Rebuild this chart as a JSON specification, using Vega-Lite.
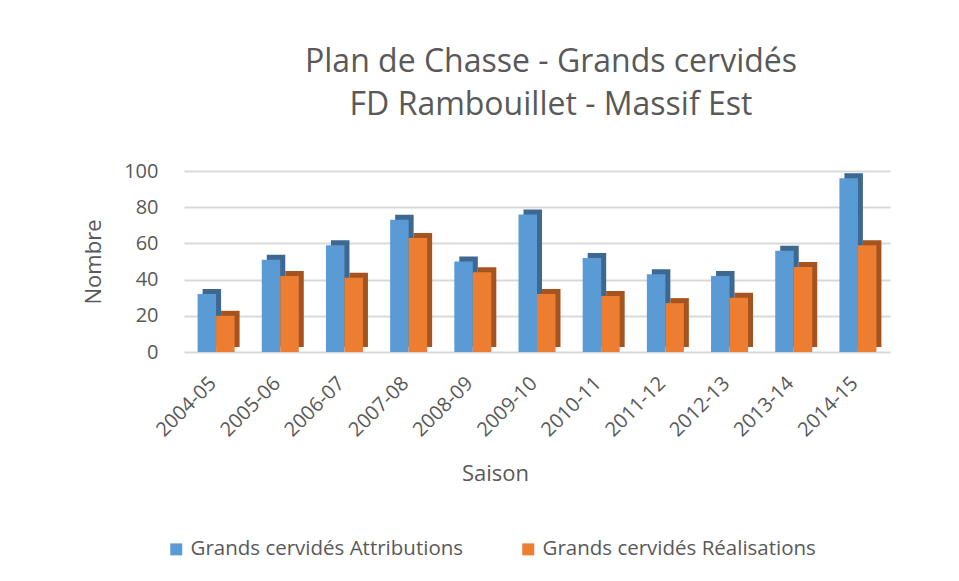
{
  "$schema": "https://vega.github.io/schema/vega-lite/v6.json",
  "width": 706,
  "height": 181,
  "autosize": "none",
  "padding": {"left": 184, "top": 171, "right": 69, "bottom": 229},
  "background": "white",
  "config": {
    "view": {"stroke": null},
    "font": "Open Sans",
    "axis": {"labelColor": "#595959", "titleColor": "#595959", "labelFont": "Open Sans", "titleFont": "Open Sans", "titleFontWeight": "normal"}
  },
  "title": {
    "text": ["Plan de Chasse - Grands cervidés", "FD Rambouillet - Massif Est"],
    "fontSize": 32,
    "fontWeight": "normal",
    "font": "Open Sans",
    "color": "#595959",
    "lineHeight": 43,
    "anchor": "middle",
    "dx": 14,
    "offset": 39
  },
  "datasets": {
    "plan": [
      {"Saison": "2004-05", "Serie": "Grands cervidés Attributions", "Nombre": 32},
      {"Saison": "2004-05", "Serie": "Grands cervidés Réalisations", "Nombre": 20},
      {"Saison": "2005-06", "Serie": "Grands cervidés Attributions", "Nombre": 51},
      {"Saison": "2005-06", "Serie": "Grands cervidés Réalisations", "Nombre": 42},
      {"Saison": "2006-07", "Serie": "Grands cervidés Attributions", "Nombre": 59},
      {"Saison": "2006-07", "Serie": "Grands cervidés Réalisations", "Nombre": 41},
      {"Saison": "2007-08", "Serie": "Grands cervidés Attributions", "Nombre": 73},
      {"Saison": "2007-08", "Serie": "Grands cervidés Réalisations", "Nombre": 63},
      {"Saison": "2008-09", "Serie": "Grands cervidés Attributions", "Nombre": 50},
      {"Saison": "2008-09", "Serie": "Grands cervidés Réalisations", "Nombre": 44},
      {"Saison": "2009-10", "Serie": "Grands cervidés Attributions", "Nombre": 76},
      {"Saison": "2009-10", "Serie": "Grands cervidés Réalisations", "Nombre": 32},
      {"Saison": "2010-11", "Serie": "Grands cervidés Attributions", "Nombre": 52},
      {"Saison": "2010-11", "Serie": "Grands cervidés Réalisations", "Nombre": 31},
      {"Saison": "2011-12", "Serie": "Grands cervidés Attributions", "Nombre": 43},
      {"Saison": "2011-12", "Serie": "Grands cervidés Réalisations", "Nombre": 27},
      {"Saison": "2012-13", "Serie": "Grands cervidés Attributions", "Nombre": 42},
      {"Saison": "2012-13", "Serie": "Grands cervidés Réalisations", "Nombre": 30},
      {"Saison": "2013-14", "Serie": "Grands cervidés Attributions", "Nombre": 56},
      {"Saison": "2013-14", "Serie": "Grands cervidés Réalisations", "Nombre": 47},
      {"Saison": "2014-15", "Serie": "Grands cervidés Attributions", "Nombre": 96},
      {"Saison": "2014-15", "Serie": "Grands cervidés Réalisations", "Nombre": 59}
    ]
  },
  "data": {"name": "plan"},
  "encoding": {
    "x": {
      "field": "Saison",
      "type": "nominal",
      "title": "Saison",
      "scale": {"paddingInner": 0.42, "paddingOuter": 0.21},
      "axis": {
        "labelAngle": -45,
        "labelAlign": "right",
        "labelBaseline": "middle",
        "labelFontSize": 20,
        "labelPadding": 28,
        "labelOffset": -3,
        "ticks": false,
        "domain": false,
        "titleFontSize": 22,
        "titleX": 311,
        "titleY": 121,
        "titleBaseline": "middle",
        "titleAnchor": "middle"
      }
    },
    "y": {
      "field": "Nombre",
      "type": "quantitative",
      "title": "Nombre",
      "scale": {"domain": [0, 100]},
      "axis": {
        "values": [0, 20, 40, 60, 80, 100],
        "labelFontSize": 20,
        "labelPadding": 26,
        "ticks": false,
        "domain": false,
        "gridColor": "#d9d9d9",
        "gridWidth": 2,
        "titleFontSize": 22,
        "titlePadding": 18
      }
    }
  },
  "layer": [
    {
      "transform": [{"filter": "datum.Serie === 'Grands cervidés Attributions'"}],
      "mark": {"type": "bar", "width": 18.5, "xOffset": -4.25, "yOffset": -5, "color": "#3d6891"}
    },
    {
      "transform": [{"filter": "datum.Serie === 'Grands cervidés Attributions'"}],
      "mark": {"type": "bar", "width": 18.5, "xOffset": -9.25},
      "encoding": {
        "color": {
          "field": "Serie",
          "type": "nominal",
          "title": null,
          "scale": {"domain": ["Grands cervidés Attributions", "Grands cervidés Réalisations"], "range": ["#5b9bd5", "#ed7d31"]}
        }
      }
    },
    {
      "transform": [{"filter": "datum.Serie === 'Grands cervidés Réalisations'"}],
      "mark": {"type": "bar", "width": 18.5, "xOffset": 14.25, "yOffset": -5, "color": "#a5541f"}
    },
    {
      "transform": [{"filter": "datum.Serie === 'Grands cervidés Réalisations'"}],
      "mark": {"type": "bar", "width": 18.5, "xOffset": 9.25},
      "encoding": {
        "color": {
          "field": "Serie",
          "type": "nominal",
          "title": null,
          "scale": {"domain": ["Grands cervidés Attributions", "Grands cervidés Réalisations"], "range": ["#5b9bd5", "#ed7d31"]},
          "legend": {
            "orient": "none",
            "direction": "horizontal",
            "legendX": -18,
            "legendY": 368,
            "symbolType": "square",
            "symbolSize": 144,
            "symbolStrokeWidth": 0,
            "labelFontSize": 20.5,
            "labelColor": "#595959",
            "labelFont": "Open Sans",
            "labelOffset": 4,
            "columnPadding": 54,
            "labelLimit": 400
          }
        }
      }
    }
  ]
}
